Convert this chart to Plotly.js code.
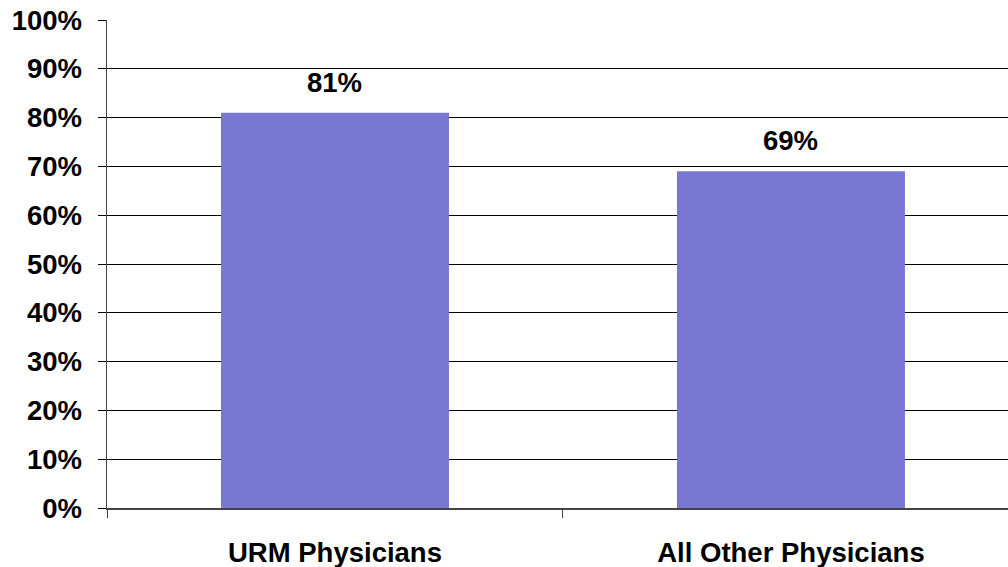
<!DOCTYPE html>
<html>
<head>
<meta charset="utf-8">
<script src="https://cdn.plot.ly/plotly-3.0.1.min.js"></script>
<style>html,body{margin:0;padding:0;background:#fff;}#chart{width:1008px;height:567px;}</style>
</head>
<body>
<div id="chart"></div>
<script>
const categories = ["URM Physicians", "All Other Physicians"];
const values = [81, 69];
const yTickValues = [0, 10, 20, 30, 40, 50, 60, 70, 80, 90, 100];

const font = "Liberation Sans, Arial, sans-serif";
const fsize = 27.5;
const trace = {
  type: "bar",
  x: categories,
  y: values,
  width: 0.5,
  marker: {color: "#7878d2", line: {width: 0}},
  hoverinfo: "none"
};
const annotations = categories.map((c, i) => ({
  x: c, y: values[i], xref: "x", yref: "y",
  text: values[i] + "%",
  showarrow: false,
  yanchor: "bottom",
  yshift: 13,
  font: {family: font, size: fsize, color: "#000", weight: "bold"}
}));
const layout = {
  width: 1008, height: 567,
  margin: {l: 107, r: 0, t: 20, b: 59},
  paper_bgcolor: "#fff", plot_bgcolor: "#fff",
  showlegend: false,
  annotations: annotations,
  xaxis: {
    type: "category",
    range: [-0.5, 1.476],
    tickson: "boundaries",
    ticks: "outside", ticklen: 8, tickcolor: "#444", tickwidth: 1,
    showline: true, linecolor: "#444", linewidth: 1.5,
    showgrid: false, zeroline: false,
    ticklabelstandoff: 19,
    tickfont: {family: font, size: fsize, color: "#000", weight: "bold"}
  },
  yaxis: {
    range: [0, 100],
    tickvals: yTickValues,
    ticktext: yTickValues.map(v => v + "%"),
    ticks: "outside", ticklen: 8, tickcolor: "#000", tickwidth: 1,
    showline: true, linecolor: "#444", linewidth: 1.5,
    showgrid: true, gridcolor: "#000", gridwidth: 1,
    zeroline: false,
    ticklabelstandoff: 10,
    tickfont: {family: font, size: fsize, color: "#000", weight: "bold"}
  }
};
Plotly.newPlot("chart", [trace], layout, {displayModeBar: false, staticPlot: true});
</script>
</body>
</html>
